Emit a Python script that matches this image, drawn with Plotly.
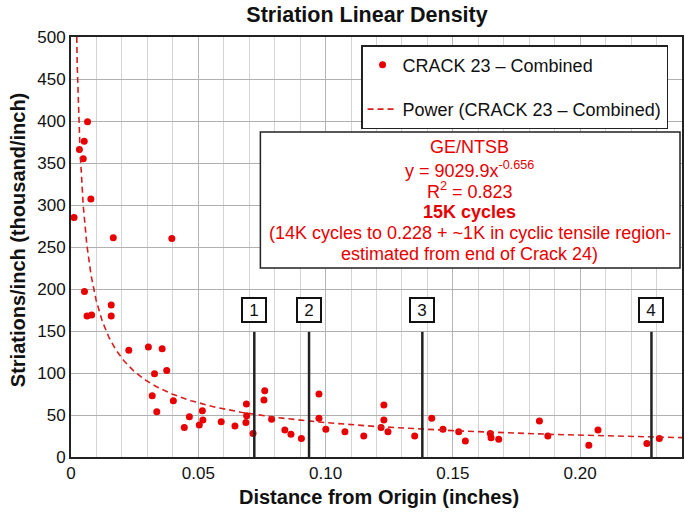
import numpy as np
import plotly.graph_objects as go

# ---- data ----
dist_in = [0.0012, 0.0033, 0.0048, 0.0052, 0.0065, 0.0078, 0.0053, 0.0063, 0.0081,
           0.0158, 0.0158, 0.0166, 0.0396, 0.0227, 0.0304, 0.0358, 0.0328, 0.0376,
           0.0319, 0.0402, 0.0337, 0.0445, 0.0465, 0.0516, 0.0518, 0.0504, 0.0590,
           0.0644, 0.0689, 0.0690, 0.0687, 0.0715, 0.0761, 0.0758, 0.0788, 0.0840,
           0.0864, 0.0905, 0.0974, 0.0974, 0.1001, 0.1076, 0.1150, 0.1229, 0.1229,
           0.1218, 0.1245, 0.1350, 0.1417, 0.1461, 0.1523, 0.1549, 0.1647, 0.1650,
           0.1680, 0.1840, 0.1873, 0.2034, 0.2070, 0.2262, 0.2311]
striations = [285, 366, 355, 376, 399, 307, 197, 168, 169,
              181, 168, 261, 260, 127, 131, 129, 99, 103,
              73, 67, 54, 35, 48, 55, 44, 38, 42,
              37, 63, 49, 41, 28, 79, 68, 45, 32,
              27, 22, 75, 46, 33, 30, 25, 62, 44,
              35, 30, 25, 46, 33, 30, 19, 28, 23,
              21, 43, 25, 14, 32, 16, 22]

# power fit reported on the chart: y = 9029.9 x^-0.656 (striations/inch) -> thousand/inch
fit_coef = 9029.9
fit_exp = -0.656

marker_pos = [0.072, 0.0935, 0.138, 0.228]
marker_labels = ["1", "2", "3", "4"]
marker_top = 149
marker_label_y = 175

x_tickvals = [0, 0.05, 0.10, 0.15, 0.20]
x_ticktext = ["0", "0.05", "0.10", "0.15", "0.20"]
y_tickvals = list(range(0, 501, 50))

info_lines = ["GE/NTSB",
              "y = 9029.9x<sup>-0.656</sup>",
              "R<sup>2</sup> = 0.823",
              "<b>15K cycles</b>",
              "(14K cycles to 0.228 + ~1K in cyclic tensile region-",
              "estimated from end of Crack 24)"]

FONT = "Arial, Liberation Sans, Helvetica, sans-serif"
RED = "#e80000"

# plot-area geometry (pixels) used to place paper-referenced decorations
L, R, T, B = 71, 684, 37, 457
W_PA, H_PA = R - L, B - T


def px_x(p):
    return (p - L) / W_PA


def px_y(p):
    return (B - p) / H_PA


fit_x = np.geomspace(0.0015, 0.24, 400)
fit_y = fit_coef * fit_x ** fit_exp / 1000.0

fig = go.Figure()
fig.add_trace(go.Scatter(
    x=dist_in, y=striations, mode="markers",
    marker=dict(color=RED, size=7),
    name="CRACK 23 \u2013 Combined", legendgroup="a"))
fig.add_trace(go.Scatter(
    x=fit_x, y=fit_y, mode="lines",
    line=dict(color="#d81e1e", width=1.6, dash="6px,4px"),
    name="Power (CRACK 23 \u2013 Combined)", legendgroup="b"))

# numbered location lines
for xp, lab in zip(marker_pos, marker_labels):
    fig.add_shape(type="line", xref="x", yref="y", x0=xp, x1=xp, y0=0, y1=marker_top,
                  line=dict(color="#222222", width=2.5), layer="above")
    fig.add_annotation(x=xp, y=marker_label_y, xref="x", yref="y", text=lab,
                       showarrow=False, font=dict(family=FONT, size=17, color="#111111"),
                       bgcolor="white", bordercolor="#111111", borderwidth=2,
                       borderpad=2, width=18, height=18)

# fit info box
fig.add_shape(type="rect", xref="paper", yref="paper", x0=px_x(261), x1=px_x(682),
              y0=px_y(268), y1=px_y(132), line=dict(color="#222222", width=1.5),
              fillcolor="white", layer="above")
line_y = [147, 169, 190, 212, 233, 254]
for txt, yc in zip(info_lines, line_y):
    fig.add_annotation(xref="paper", yref="paper", x=px_x(471), y=px_y(yc),
                       showarrow=False, text=txt, yanchor="middle",
                       font=dict(family=FONT, size=18, color=RED))

# axis titles
fig.add_annotation(xref="paper", yref="paper", x=px_x(380), y=px_y(497),
                   text="<b>Distance from Origin (inches)</b>", showarrow=False,
                   font=dict(family=FONT, size=20, color="#111111"), yanchor="middle")
fig.add_annotation(xref="paper", yref="paper", x=px_x(18), y=px_y(240),
                   text="<b>Striations/inch (thousand/inch)</b>", showarrow=False,
                   textangle=-90, font=dict(family=FONT, size=20, color="#111111"),
                   xanchor="center", yanchor="middle")

fig.update_layout(
    width=685, height=516,
    margin=dict(l=L, r=685 - R, t=T, b=516 - B),
    paper_bgcolor="white", plot_bgcolor="white",
    font=dict(family=FONT, color="#111111"),
    title=dict(text="<b>Striation Linear Density</b>", x=px_x(368), xref="paper",
               xanchor="center", y=1 - 14 / 516, yref="container", yanchor="middle",
               font=dict(family=FONT, size=21.5, color="#111111")),
    legend=dict(x=px_x(362), y=px_y(45), xanchor="left", yanchor="top",
                bgcolor="white", bordercolor="#222222", borderwidth=1.5,
                font=dict(family=FONT, size=18, color="#111111"),
                tracegroupgap=18),
    showlegend=True,
)
fig.update_xaxes(range=[0, 0.24], tickvals=x_tickvals, ticktext=x_ticktext,
                 showgrid=True, gridcolor="#b4b4b4", gridwidth=1,
                 minor=dict(dtick=0.01, tick0=0, showgrid=True, gridcolor="#d4d4d4", gridwidth=1),
                 showline=True, linecolor="#222222", linewidth=2, mirror=True,
                 zeroline=False, ticks="", tickfont=dict(family=FONT, size=17, color="#111111"))
fig.update_yaxes(range=[0, 500], tickvals=y_tickvals,
                 showgrid=True, gridcolor="#b0b0b0", gridwidth=1,
                 showline=True, linecolor="#222222", linewidth=2, mirror=True,
                 zeroline=False, ticks="", tickfont=dict(family=FONT, size=17, color="#111111"))

fig.write_html("out.html",
               config={"displayModeBar": False},
               post_script="document.body.style.margin='0';document.body.style.padding='0';")
